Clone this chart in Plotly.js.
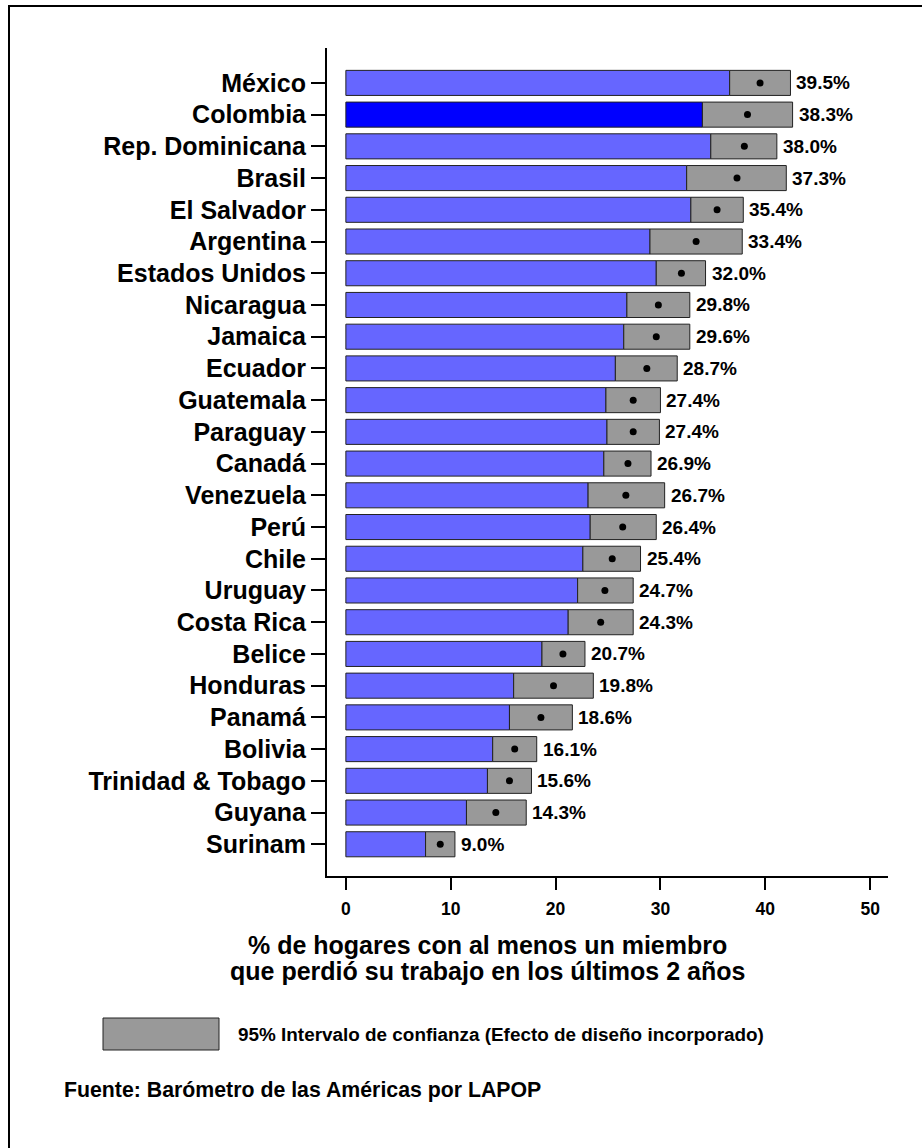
<!DOCTYPE html>
<html>
<head>
<meta charset="utf-8">
<script src="https://cdn.plot.ly/plotly-3.0.1.min.js"></script>
<style>html,body{margin:0;padding:0;background:#fff;}#chart{width:922px;height:1148px;}</style>
</head>
<body>
<div id="chart"></div>
<script>
const countries = ["México","Colombia","Rep. Dominicana","Brasil","El Salvador","Argentina","Estados Unidos","Nicaragua","Jamaica","Ecuador","Guatemala","Paraguay","Canadá","Venezuela","Perú","Chile","Uruguay","Costa Rica","Belice","Honduras","Panamá","Bolivia","Trinidad & Tobago","Guyana","Surinam"];
const means = [39.5,38.3,38.0,37.3,35.4,33.4,32.0,29.8,29.6,28.7,27.4,27.4,26.9,26.7,26.4,25.4,24.7,24.3,20.7,19.8,18.6,16.1,15.6,14.3,9.0];
const lower = [36.6,34.0,34.8,32.5,32.9,29.0,29.6,26.8,26.5,25.7,24.8,24.9,24.6,23.1,23.3,22.6,22.1,21.2,18.7,16.0,15.6,14.0,13.5,11.5,7.6];
const upper = [42.4,42.6,41.1,42.0,37.9,37.8,34.3,32.8,32.8,31.6,30.0,29.9,29.1,30.4,29.6,28.1,27.4,27.4,22.8,23.6,21.6,18.2,17.7,17.2,10.4];
const highlight = "Colombia";
const xTicks = [0,10,20,30,40,50];
const axisTitleLines = ["% de hogares con al menos un miembro", "que perdió su trabajo en los últimos 2 años"];
const legendText = "95% Intervalo de confianza (Efecto de diseño incorporado)";
const sourceText = "Fuente: Barómetro de las Américas por LAPOP";

const W = 922, H = 1148;
const L = 327, R = 888, T = 48, B = 876;
const px = x => (x - L) / (R - L);
const py = y => (B - y) / (B - T);
const FONT = "Liberation Sans, Arial, sans-serif";

const idx = countries.map((_, i) => i);
const blueColors = countries.map(c => c === highlight ? "#0000FF" : "#6666FF");

const traces = [
  {type: "bar", orientation: "h", y: idx, x: lower, base: 0, width: 0.79,
   marker: {color: blueColors, line: {color: "#222", width: 1}}, hoverinfo: "skip"},
  {type: "bar", orientation: "h", y: idx, x: upper.map((u, i) => u - lower[i]), base: lower, width: 0.79,
   marker: {color: "#999999", line: {color: "#222", width: 1}}, hoverinfo: "skip"},
  {type: "scatter", mode: "markers", y: idx, x: means,
   marker: {color: "#000", size: 7}, hoverinfo: "skip"}
];

const annotations = countries.map((c, i) => ({
  x: upper[i], y: i, xref: "x", yref: "y", text: means[i].toFixed(1) + "%",
  showarrow: false, xanchor: "left", yanchor: "middle", xshift: 4,
  font: {family: FONT, size: 19, color: "#000", weight: "bold"}
}));
const titleY = [945, 971];
axisTitleLines.forEach((t, k) => annotations.push({
  x: px(487), y: py(titleY[k]), xref: "paper", yref: "paper", text: t,
  showarrow: false, xanchor: "center", yanchor: "middle", align: "center",
  font: {family: FONT, size: 25, color: "#000", weight: "bold"}
}));
annotations.push({
  x: px(236), y: py(1034), xref: "paper", yref: "paper", text: legendText,
  showarrow: false, xanchor: "left", yanchor: "middle",
  font: {family: FONT, size: 18.9, color: "#000", weight: "bold"}
});
annotations.push({
  x: px(62), y: py(1090), xref: "paper", yref: "paper", text: sourceText,
  showarrow: false, xanchor: "left", yanchor: "middle",
  font: {family: FONT, size: 21.3, color: "#000", weight: "bold"}
});

const shapes = [
  {type: "rect", xref: "paper", yref: "paper", x0: px(103), x1: px(219), y0: py(1050), y1: py(1018),
   fillcolor: "#999999", line: {color: "#222", width: 1}},
  {type: "rect", xref: "paper", yref: "paper", x0: px(9), x1: px(940), y0: py(1170), y1: py(6),
   fillcolor: "rgba(0,0,0,0)", line: {color: "#000", width: 2}}
];

const layout = {
  width: W, height: H,
  margin: {l: L, r: W - R, t: T, b: H - B, pad: 0},
  paper_bgcolor: "#fff", plot_bgcolor: "#fff",
  showlegend: false, barmode: "overlay",
  xaxis: {range: [-1.8, 51.7], tickvals: xTicks, ticktext: xTicks.map(String),
    showgrid: false, zeroline: false, showline: true, linecolor: "#000", linewidth: 2,
    ticks: "outside", ticklen: 12, tickwidth: 2, tickcolor: "#000", ticklabelstandoff: 4,
    tickfont: {family: FONT, size: 17.5, color: "#000", weight: "bold"}, fixedrange: true},
  yaxis: {range: [25.0, -1.1], tickvals: idx, ticktext: countries,
    showgrid: false, zeroline: false, showline: true, linecolor: "#000", linewidth: 2,
    ticks: "outside", ticklen: 14, tickwidth: 2, tickcolor: "#000",
    tickfont: {family: FONT, size: 25, color: "#000", weight: "bold"}, fixedrange: true},
  annotations: annotations,
  shapes: shapes
};

Plotly.newPlot("chart", traces, layout, {staticPlot: true, displayModeBar: false});
</script>
</body>
</html>
